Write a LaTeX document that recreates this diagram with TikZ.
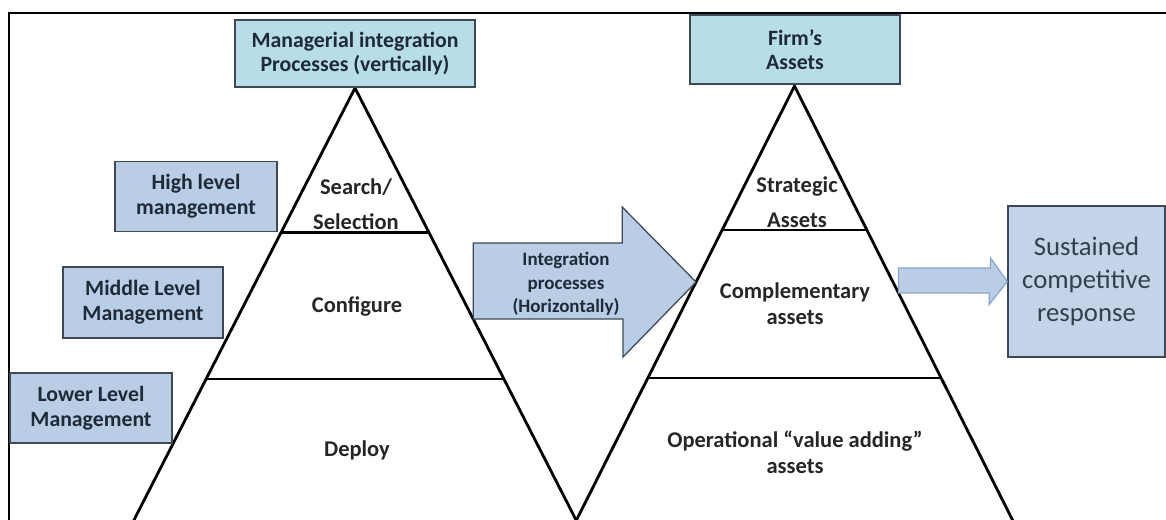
\documentclass[tikz,border=0pt]{standalone}
\usepackage{fontspec}
\setmainfont{Carlito}
\usetikzlibrary{calc}
\definecolor{aquabox}{HTML}{B7DDE8}
\definecolor{bluebox}{HTML}{B9CDE5}
\definecolor{boxline}{HTML}{3E4955}
\definecolor{boxtext}{HTML}{1E2A38}
\definecolor{arrline}{HTML}{8AA6CC}

\begin{document}
\begin{tikzpicture}[x=0.025cm, y=-0.025cm,
    pyr/.style = {line width=2pt, black, line join=miter},
    topbox/.style = {draw=boxline, fill=aquabox, line width=0.9pt, inner sep=0pt, align=center, text=boxtext, font=\bfseries\fontsize{15.5}{17.5}\selectfont},
    levelbox/.style = {draw=boxline, fill=bluebox, line width=0.9pt, inner sep=0pt, minimum width=4.05cm, minimum height=1.75cm, align=center, text=boxtext, font=\bfseries\fontsize{15.5}{18}\selectfont},
    layer/.style = {align=center, text=black!85, font=\bfseries\fontsize{16}{18.5}\selectfont},
    blockarrow/.style = {draw=boxline, fill=bluebox, line width=0.9pt, line join=miter}]
	\useasboundingbox (0,0) rectangle (1166,520);
	%Frame
	\draw[line width=1.4pt] (9,540) -- (9,13) -- (1170,13);
	
	%Corners of both pyramids
	\coordinate (lApex) at (355,88);
	\coordinate (lBL) at (131.4,525);
	\coordinate (lBR) at (578.6,525);
	\coordinate (rApex) at (794.5,86);
	\coordinate (rBL) at (574,525);
	\coordinate (rBR) at (1015,525);
	
	%Left pyramid with its layers
	\draw[pyr] (lBL) -- (lApex) -- (lBR);
	\draw[pyr] ($(lApex)!0.33!(lBL)$) -- ($(lApex)!0.33!(lBR)$);
	\draw[pyr] ($(lApex)!0.666!(lBL)$) -- ($(lApex)!0.666!(lBR)$);
	%Right pyramid with its layers
	\draw[pyr] (rBL) -- (rApex) -- (rBR);
	\draw[pyr] ($(rApex)!0.328!(rBL)$) -- ($(rApex)!0.328!(rBR)$);
	\draw[pyr] ($(rApex)!0.665!(rBL)$) -- ($(rApex)!0.665!(rBR)$);
	
	%Boxes on top of the pyramids
	\node[topbox, minimum width=6cm, minimum height=1.68cm] (mgr) at (355,53.5) {Managerial integration\\Processes (vertically)};
	\node[topbox, minimum width=5.25cm, minimum height=1.73cm] (firm) at (795,49.5) {Firm's\\Assets};
	
	%Management levels
	\node[levelbox] (high) at (196,196.5) {High level\\management};
	\node[levelbox, minimum width=4cm, minimum height=1.78cm] (middle) at (143,302.5) {Middle Level\\Management};
	\node[levelbox] (lower) at (91,408) {Lower Level\\Management};
	
	%Outcome
	\node[draw=boxline, fill=bluebox!85!white, line width=0.9pt, inner sep=0pt, minimum width=3.93cm, minimum height=3.78cm, align=center, text=boxtext!90!white, font=\fontsize{19}{23.5}\selectfont] (sust) at (1086.5,281.5) {Sustained\\competitive\\response};
	
	%Layer labels
	\node[layer, font=\bfseries\fontsize{16}{25}\selectfont] (search) at (356,204) {Search/\\Selection};
	\node[layer] (config) at (357,306) {Configure};
	\node[layer] (deploy) at (357,450) {Deploy};
	\node[layer, font=\bfseries\fontsize{16}{25}\selectfont] (strat) at (797,202) {Strategic\\Assets};
	\node[layer] (compl) at (795,304) {Complementary\\assets};
	\node[layer] (oper) at (795,452) {Operational ``value adding''\\assets};
	
	%Integration arrow between the pyramids
	\coordinate (tailA) at ($(lApex)!0.5286!(lBR)$);
	\coordinate (tipA) at ($(rApex)!0.4465!(rBL)$);
	\draw[blockarrow] (tailA) -- ++(0,-76) -- ++(149,0) -- ++(0,-36) -- (tipA) -- ++(-73,75) -- ++(0,-38) -- cycle;
	\node[align=center, text=boxtext, font=\bfseries\fontsize{13.5}{16.5}\selectfont] (integ) at (566,284) {Integration\\processes\\(Horizontally)};
	
	%Arrow to the outcome
	\coordinate (tailS) at ($(rApex)!0.4715!(rBR)$);
	\draw[blockarrow, draw=arrline, fill=bluebox] (tailS) -- ++(0,-25) -- ++(92,0) -- ++(0,-10) -- (sust.west) -- ++(-18,23) -- ++(0,-11.5) -- cycle;
\end{tikzpicture}
\end{document}
